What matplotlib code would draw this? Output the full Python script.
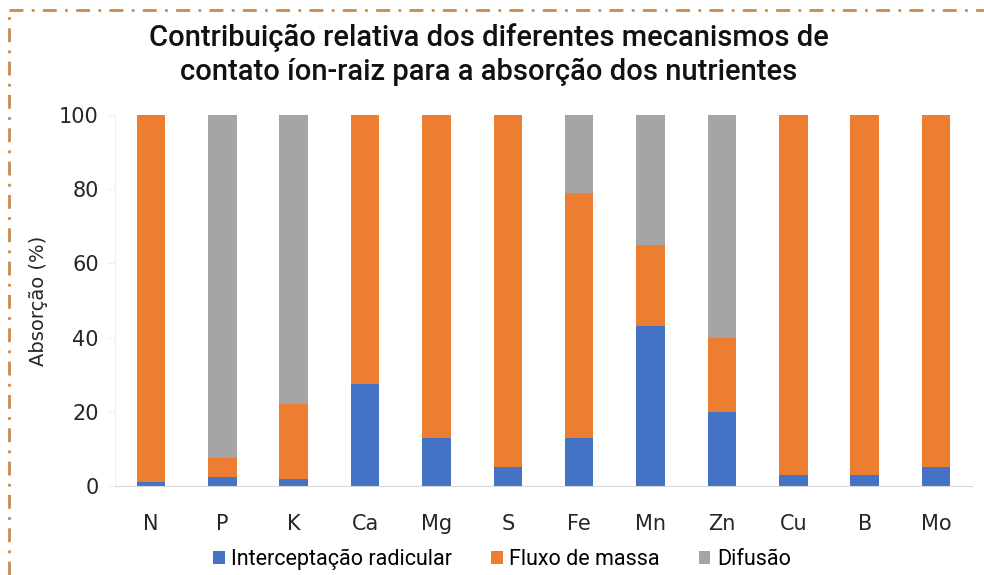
import numpy as np
import matplotlib.pyplot as plt
from matplotlib.lines import Line2D
from matplotlib.patches import Patch
from matplotlib import font_manager

# nutrientes e contribuicao de cada mecanismo (%)
nutrientes = ['N', 'P', 'K', 'Ca', 'Mg', 'S', 'Fe', 'Mn', 'Zn', 'Cu', 'B', 'Mo']
intercepcao = [1, 2.5, 2, 27.5, 13, 5, 13, 43, 20, 3, 3, 5]
fluxo_massa = [99, 5, 20, 72.5, 87, 95, 66, 22, 20, 97, 97, 95]
difusao = [0, 92.5, 78, 0, 0, 0, 21, 35, 60, 0, 0, 0]

cores = ['#4472C4', '#ED7D31', '#A5A5A5']
series = ['Interceptação radicular', 'Fluxo de massa', 'Difusão']

nomes = {f.name for f in font_manager.fontManager.ttflist}
fonte = 'Liberation Sans Narrow' if 'Liberation Sans Narrow' in nomes else 'Roboto'
plt.rcParams['font.family'] = [fonte, 'DejaVu Sans']

fig = plt.figure(figsize=(9.84, 5.75), dpi=100)
ax = fig.add_axes([0.1172, 0.1548, 0.8703, 0.6452])

x = np.arange(len(nutrientes))
larg = 0.4
base = np.zeros(len(nutrientes))
for vals, cor, nome in zip([intercepcao, fluxo_massa, difusao], cores, series):
    ax.bar(x, vals, larg, bottom=base, color=cor, label=nome, zorder=2)
    base = base + np.array(vals)

ax.set_xlim(-0.5, len(nutrientes) - 0.5)
ax.set_ylim(0, 100)
ax.set_yticks([0, 20, 40, 60, 80, 100])
ax.set_xticks(x)
ax.set_xticklabels(nutrientes, fontsize=15, fontfamily=['DejaVu Sans'], color='#262626')
ax.tick_params(axis='y', labelsize=15, length=6, color='#F2F2F2', pad=6, labelcolor='#262626')
ax.tick_params(axis='x', length=0, pad=20)
for lab in ax.get_yticklabels():
    lab.set_fontfamily(['DejaVu Sans'])
for s in ['top', 'right']:
    ax.spines[s].set_visible(False)
ax.spines['left'].set_color('#F0F0F0')
ax.spines['bottom'].set_color('#D9D9D9')
ax.set_ylabel('Absorção (%)', fontsize=14, color='#262626', labelpad=8,
              fontfamily=['DejaVu Sans'])

fig.text(0.497, 0.905, 'Contribuição relativa dos diferentes mecanismos de\n'
         'contato íon-raiz para a absorção dos nutrientes',
         ha='center', va='center', fontsize=21, fontweight='medium',
         linespacing=1.25, color='#111111')

handles = [Patch(facecolor=c, edgecolor='none') for c in cores]
fig.legend(handles, series, loc='center', bbox_to_anchor=(0.51, 0.027),
           ncol=3, frameon=False, fontsize=15.5, handlelength=0.55,
           handleheight=0.55, handletextpad=0.3, columnspacing=1.8)

# moldura tracejada no topo e a esquerda
borda = dict(color='#C98A4E', lw=2, linestyle=(0, (5, 3, 1, 3)))
fig.add_artist(Line2D([0.009, 1.0], [0.982, 0.982], transform=fig.transFigure, **borda))
fig.add_artist(Line2D([0.009, 0.009], [0.0, 0.982], transform=fig.transFigure, **borda))

fig.savefig('out.png', dpi=100, facecolor='white')
